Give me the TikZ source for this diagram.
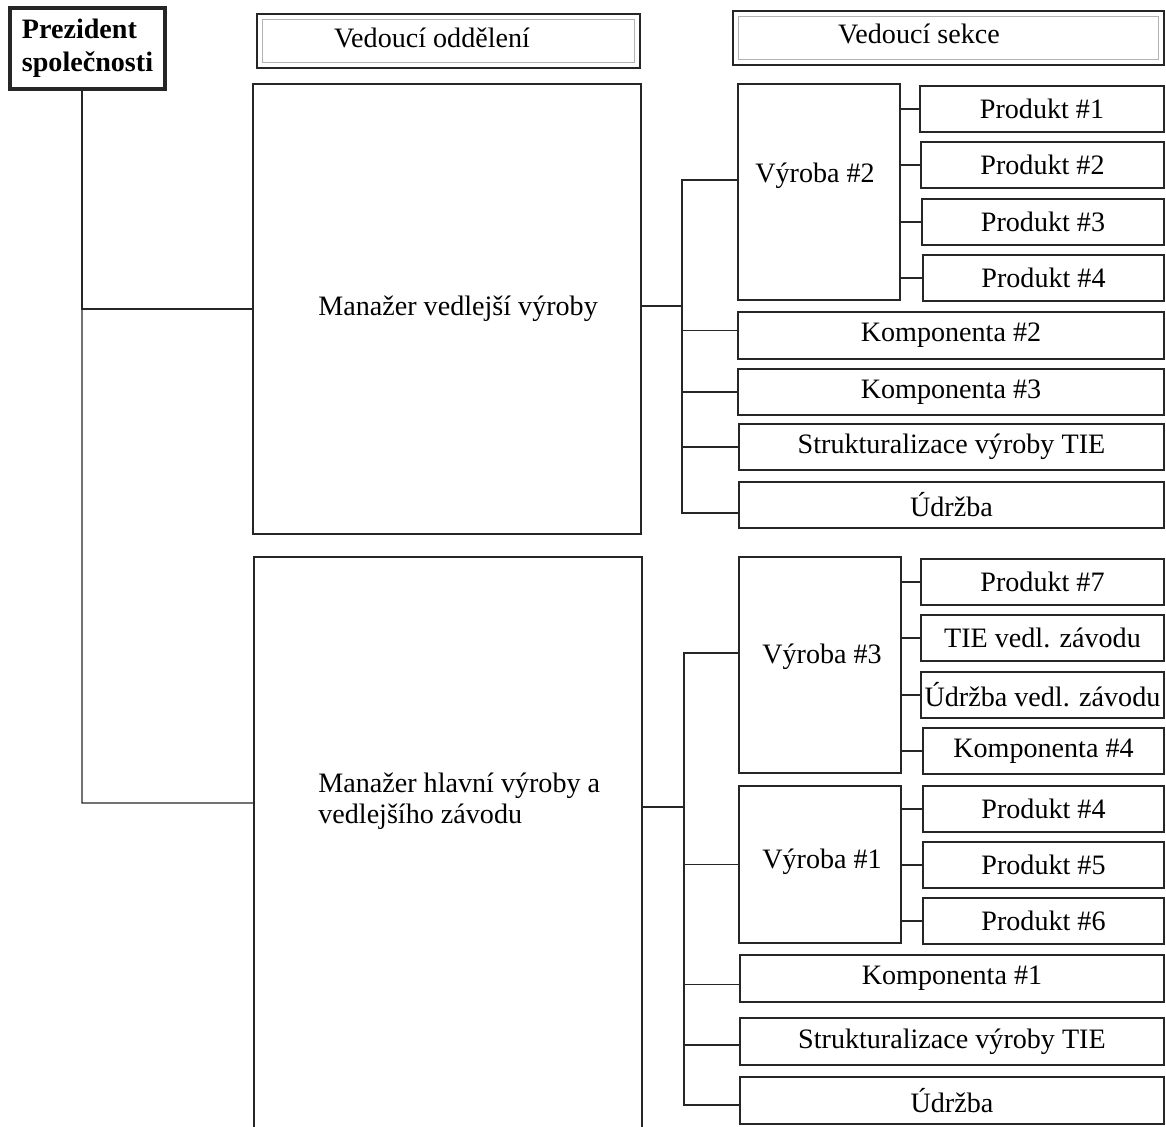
\documentclass[tikz,border=0pt]{standalone}
\usepackage{fontspec}
\setmainfont{Liberation Serif}
\tikzset{
  box/.style={draw=black!85, line width=0.8pt, inner sep=0pt, outer sep=0pt, anchor=north west},
  headbox/.style={box, path picture={\draw[gray!60, line width=0.8pt]
      ([shift={(0.11cm,0.11cm)}]path picture bounding box.south west) rectangle
      ([shift={(-0.11cm,-0.11cm)}]path picture bounding box.north east);}},
  link/.style={draw=black!85, line width=0.8pt}
}
\begin{document}
\begin{tikzpicture}[x=0.02cm, y=-0.02cm, font=\fontsize{16}{19}\selectfont]
\useasboundingbox (0,0) rectangle (1166,1126);
\clip (0,0) rectangle (1166,1126);
% president and headers
\node[box, line width=2.2pt, align=left, minimum width=3.1cm, minimum height=1.62cm,
  font=\fontsize{16}{18.8}\selectfont\bfseries] (pres) at (10,8) {Prezident\\společnosti};
\node[headbox, minimum width=7.66cm, minimum height=1.08cm] (hd1) at (257,14) {};
\node (hd1t) at (432,38) {Vedoucí oddělení};
\node[headbox, minimum width=8.62cm, minimum height=1.08cm] (hd2) at (733,11) {};
\node (hd2t) at (919,34) {Vedoucí sekce};
% managers
\node[box, minimum width=7.76cm, minimum height=9cm] (m1) at (253,84) {};
\node[anchor=west, inner sep=0pt] (m1t) at (318,309) {Manažer vedlejší výroby};
\node[box, minimum width=7.76cm, minimum height=12cm] (m2) at (254,557) {};
\node[anchor=west, inner sep=0pt, align=left, font=\fontsize{16}{17.6}\selectfont] (m2t) at (318,801)
  {Manažer hlavní výroby a\\vedlejšího závodu};
% first branch
\node[box, minimum width=3.24cm, minimum height=4.32cm] (v2) at (738,84) {};
\node (v2t) at (815,176) {Výroba \#2};
\node[box, minimum width=4.88cm, minimum height=0.92cm] (p1) at (920,86) {Produkt \#1};
\node[box, minimum width=4.86cm, minimum height=0.92cm] (p2) at (921,142) {Produkt \#2};
\node[box, minimum width=4.84cm, minimum height=0.92cm] (p3) at (922,199) {Produkt \#3};
\node[box, minimum width=4.82cm, minimum height=0.92cm] (p4) at (923,255) {Produkt \#4};
\node[box, minimum width=8.52cm, minimum height=0.94cm] (k2) at (738,312) {Komponenta \#2};
\node[box, minimum width=8.52cm, minimum height=0.92cm] (k3) at (738,369) {Komponenta \#3};
\node[box, minimum width=8.5cm, minimum height=0.92cm] (s1) at (739,424) {Strukturalizace výroby TIE};
\node[box, minimum width=8.5cm, minimum height=0.92cm] (u1) at (739,482) {Údržba};
% second branch
\node[box, minimum width=3.24cm, minimum height=4.32cm] (v3) at (739,557) {};
\node (v3t) at (822,657) {Výroba \#3};
\node[box, minimum width=4.86cm, minimum height=0.92cm] (p7) at (921,559) {Produkt \#7};
\node[box, minimum width=4.86cm, minimum height=0.92cm] (tie) at (921,615) {TIE vedl. závodu};
\node[box, minimum width=4.86cm, minimum height=0.92cm] (uv) at (921,672) {Údržba vedl. závodu};
\node[box, minimum width=4.82cm, minimum height=0.92cm] (k4) at (923,728) {Komponenta \#4};
\node[box, minimum width=3.24cm, minimum height=3.14cm] (v1) at (739,786) {};
\node (v1t) at (822,862) {Výroba \#1};
\node[box, minimum width=4.82cm, minimum height=0.92cm] (p4b) at (923,786) {Produkt \#4};
\node[box, minimum width=4.82cm, minimum height=0.92cm] (p5) at (923,842) {Produkt \#5};
\node[box, minimum width=4.82cm, minimum height=0.92cm] (p6) at (923,898) {Produkt \#6};
\node[box, minimum width=8.48cm, minimum height=0.94cm] (k1) at (740,955) {Komponenta \#1};
\node[box, minimum width=8.48cm, minimum height=0.94cm] (s2) at (740,1018) {Strukturalizace výroby TIE};
\node[box, minimum width=8.48cm, minimum height=0.94cm] (u2) at (740,1077) {Údržba};
% connectors
\coordinate (j2) at (82,803);
\draw[link] ([xshift=-0.11cm]pres.south) |- (m1.west);
\draw[link] ([xshift=-0.11cm]pres.south) -- (j2) -- (j2 -| m2.west);
\coordinate (bus1) at (682,306);
\draw[link] (m1.east |- bus1) -- (bus1);
\draw[link] ([yshift=0.24cm]v2.west) -| (bus1);
\draw[link] ([yshift=0.1cm]k2.west) -| (bus1);
\draw[link] (k3.west) -| (bus1);
\draw[link] (s1.west) -| (bus1);
\draw[link] ([yshift=-0.16cm]u1.west) -| (bus1);
\draw[link] (p1.west) -- (p1.west -| v2.east);
\draw[link] (p2.west) -- (p2.west -| v2.east);
\draw[link] (p3.west) -- (p3.west -| v2.east);
\draw[link] (p4.west) -- (p4.west -| v2.east);
\coordinate (bus2) at (684,807);
\draw[link] (m2.east |- bus2) -- (bus2);
\draw[link] ([yshift=0.24cm]v3.west) -| (bus2);
\draw[link] (v1.west) -| (bus2);
\draw[link] ([yshift=-0.12cm]k1.west) -| (bus2);
\draw[link] ([yshift=-0.07cm]s2.west) -| (bus2);
\draw[link] ([yshift=-0.09cm]u2.west) -| (bus2);
\draw[link] (p7.west) -- (p7.west -| v3.east);
\draw[link] (tie.west) -- (tie.west -| v3.east);
\draw[link] (uv.west) -- (uv.west -| v3.east);
\draw[link] (k4.west) -- (k4.west -| v3.east);
\draw[link] (p4b.west) -- (p4b.west -| v1.east);
\draw[link] (p5.west) -- (p5.west -| v1.east);
\draw[link] (p6.west) -- (p6.west -| v1.east);
\end{tikzpicture}
\end{document}
